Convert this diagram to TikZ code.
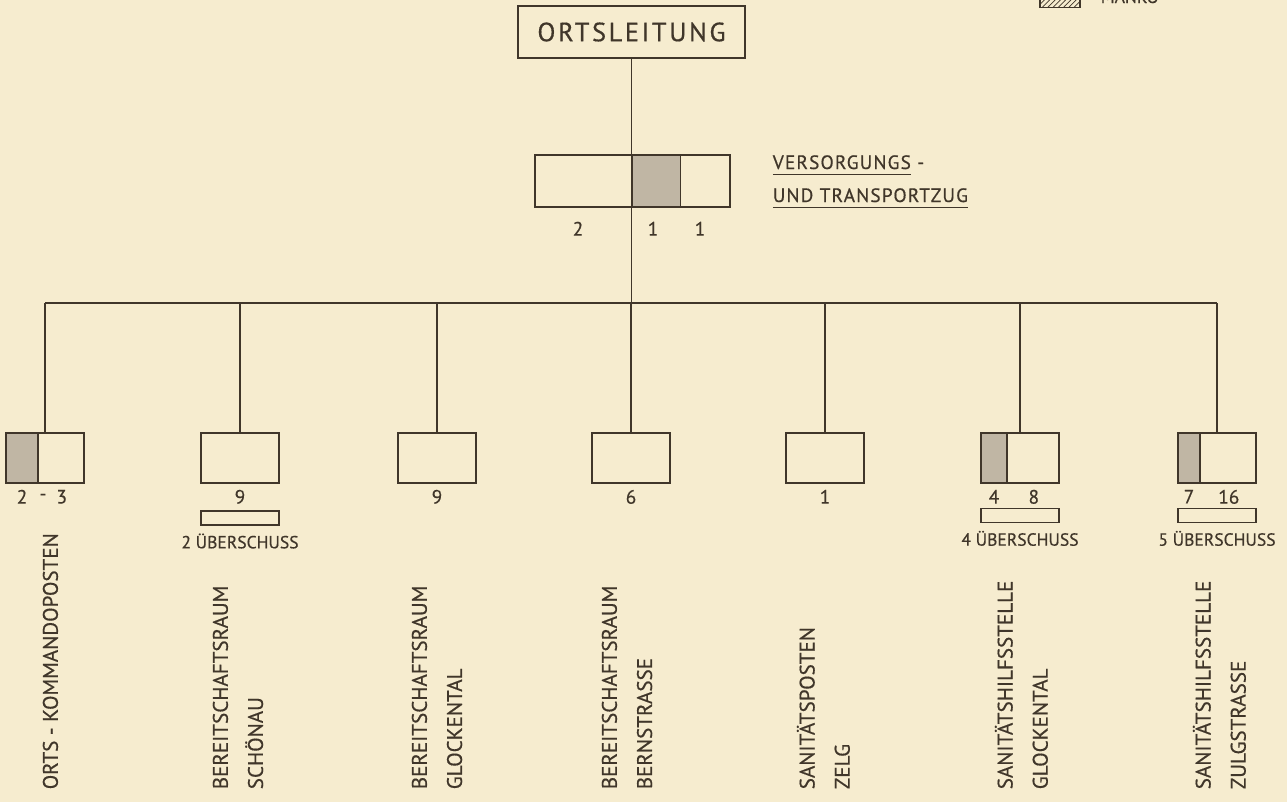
\documentclass[tikz,border=0pt]{standalone}
\usepackage{fontspec}
\setmainfont[FakeBold=0.5]{PT Sans}
\newfontfamily\widefont[LetterSpace=10,FakeBold=0.5]{PT Sans}
\newfontfamily\tagfont[LetterSpace=6,FakeBold=0.5]{PT Sans}
\usetikzlibrary{positioning,calc,patterns}

\definecolor{paper}{RGB}{246,236,207}
\definecolor{ink}{RGB}{64,54,42}
\definecolor{stipple}{RGB}{192,182,164}

\newcommand{\ulword}[1]{\setbox0\hbox{#1}\rlap{\rule[-3.6pt]{\wd0}{0.9pt}}\box0\relax}

\begin{document}
\begin{tikzpicture}[
  x=0.02cm, y=-0.02cm, line width=0.9pt, color=ink,
  hq/.style={draw, minimum width=4.54cm, minimum height=1.04cm, inner sep=0,
             font=\widefont\fontsize{15}{17}\selectfont},
  unitbox/.style={draw, minimum width=1.56cm, minimum height=1cm, inner sep=0},
  manko/.style={draw, fill=stipple, minimum height=1cm, inner sep=0, anchor=north west},
  surplus/.style={draw, minimum width=1.56cm, minimum height=0.28cm, inner sep=0},
  num/.style={font=\fontsize{11}{13}\selectfont, inner sep=0},
  note/.style={font=\fontsize{10}{12}\selectfont, inner sep=0},
  tag/.style={font=\tagfont\fontsize{11}{13}\selectfont, inner sep=0, anchor=base west},
  place/.style={rotate=90, anchor=north west, align=left, inner sep=0,
                font=\fontsize{12}{20}\selectfont},
]
\useasboundingbox (0,0) rectangle (1287,802);
\fill[paper] (0,0) rectangle (1287,802);

% ---- legend, cut off by the top edge ----
\node[draw, pattern=north east lines, pattern color=ink, minimum width=0.8cm,
      minimum height=0.3cm, inner sep=0] (key) at (1060,0) {};
\node[note, anchor=base west] (keytxt) at (1100,3) {MANKO};

% ---- head and supply platoon ----
\node[hq] (ol) at (631.5,32) {ORTSLEITUNG};
\node[draw, minimum width=3.9cm, minimum height=1.04cm, inner sep=0] (vz) at (632.5,181) {};
\node[manko, minimum width=0.96cm, minimum height=1.04cm] (vm) at (ol.south |- vz.north) {};
\node[num, anchor=north] (vn1) at (578,221) {2};
\node[num, anchor=north] (vn2) at (653,221) {1};
\node[num, anchor=north] (vn3) at (700,221) {1};
\node[tag] (vt1) at (772,169) {\ulword{VERSORGUNGS} -};
\node[tag] (vt2) at (772,202) {\ulword{UND TRANSPORTZUG}};

% ---- seven units on the bus ----
\coordinate (bus) at (0,303);
\foreach [count=\i] \bx in {45,240,437,631,825,1020,1217}
  \node[unitbox] (u\i) at (\bx,458) {};
\draw (u1.north |- bus) -- (u7.north |- bus);
\draw (ol.south) -- (ol.south |- bus);
\foreach \i in {1,...,7}
  \draw (u\i.north) -- (u\i.north |- bus);

% ---- shortfall parts ----
\node[manko, minimum width=0.64cm] (m1) at (u1.north west) {};
\node[manko, minimum width=0.52cm] (m6) at (u6.north west) {};
\node[manko, minimum width=0.44cm] (m7) at (u7.north west) {};

% ---- numbers under the boxes ----
\node[num, below=3pt of m1] (n1a) {2};
\node[num] (n1d) at (43,497) {-};
\path (m1.south east) -- (u1.south east) node[num, midway, below=3pt] (n1b) {3};
\node[num, below=3pt of u2] (n2) {9};
\node[num, below=3pt of u3] (n3) {9};
\node[num, below=3pt of u4] (n4) {6};
\node[num, below=3pt of u5] (n5) {1};
\node[num, below=3pt of m6] (n6a) {4};
\path (m6.south east) -- (u6.south east) node[num, midway, below=3pt] (n6b) {8};
\node[num, below=3pt of m7] (n7a) {7};
\path (m7.south east) -- (u7.south east) node[num, midway, below=3pt] (n7b) {16};

% ---- surplus ----
\node[surplus, below=15pt of u2] (s2) {};
\node[surplus, below=13.5pt of u6] (s6) {};
\node[surplus, below=13.5pt of u7] (s7) {};
\node[note, below=4pt of s2] (x2) {2 ÜBERSCHUSS};
\node[note, below=4pt of s6] (x6) {4 ÜBERSCHUSS};
\node[note, below=4pt of s7] (x7) {5 ÜBERSCHUSS};

% ---- place names ----
\node[place] (p1) at (42,790) {ORTS - KOMMANDOPOSTEN};
\node[place] (p2) at (212,790) {BEREITSCHAFTSRAUM\\SCHÖNAU};
\node[place] (p3) at (411,790) {BEREITSCHAFTSRAUM\\GLOCKENTAL};
\node[place] (p4) at (601,790) {BEREITSCHAFTSRAUM\\BERNSTRASSE};
\node[place] (p5) at (796,790) {SANITÄTSPOSTEN\\ZELG};
\node[place] (p6) at (994,790) {SANITÄTSHILFSSTELLE\\GLOCKENTAL};
\node[place] (p7) at (1192,790) {SANITÄTSHILFSSTELLE\\ZULGSTRASSE};

\end{tikzpicture}
\end{document}
